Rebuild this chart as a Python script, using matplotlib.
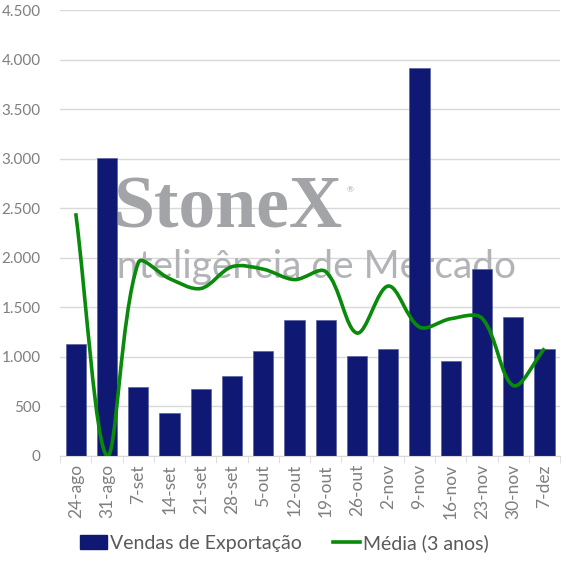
import numpy as np
import matplotlib
matplotlib.use("Agg")
import matplotlib.pyplot as plt
from matplotlib.path import Path
from matplotlib.patches import PathPatch
from matplotlib.lines import Line2D
from matplotlib.ticker import FuncFormatter

weeks = ["24-ago", "31-ago", "7-set", "14-set", "21-set", "28-set", "5-out",
         "12-out", "19-out", "26-out", "2-nov", "9-nov", "16-nov", "23-nov",
         "30-nov", "7-dez"]
export_sales = [1125, 3005, 700, 430, 675, 805, 1055, 1370, 1375, 1005,
                1080, 3915, 955, 1890, 1400, 1080]
avg_3y = [2450, 0, 1950, 1790, 1690, 1910, 1885, 1780, 1860, 1240,
          1715, 1300, 1385, 1390, 710, 1085]
y_ticks = [0, 500, 1000, 1500, 2000, 2500, 3000, 3500, 4000, 4500]

BAR_COLOR = "#0f1873"
LINE_COLOR = "#0a8a0a"
TICK_COLOR = "#7f7f7f"
GRID_COLOR = "#d9d9d9"
MARK_COLOR = "#a3a4a8"

plt.rcParams['font.family'] = ['Lato', 'DejaVu Sans']

fig = plt.figure(figsize=(5.67, 5.67), dpi=100)
ax = fig.add_axes([0.106, 0.196, 0.882, 0.786])

x = np.arange(len(weeks))

ax.set_xlim(-0.5, len(weeks) - 0.5)
ax.set_ylim(0, 4500)

# watermark behind the bars
ax.text(113 / 567, 1 - 228 / 567, "StoneX", transform=fig.transFigure,
        family="Liberation Serif", fontweight="bold", fontsize=53,
        color=MARK_COLOR, va="baseline", ha="left", zorder=1.5)
ax.text(347 / 567, 1 - 192 / 567, "®", transform=fig.transFigure,
        fontsize=6, color=MARK_COLOR, va="baseline", ha="left", zorder=1.5)
ax.text(106 / 567, 1 - 278 / 567, "Inteligência de Mercado",
        transform=fig.transFigure, fontsize=28, fontweight="normal",
        color="#b2b3b6", va="baseline", ha="left", zorder=1.5)

ax.bar(x, export_sales, width=0.65, color=BAR_COLOR, edgecolor="#5a62a0",
       linewidth=0.5, zorder=2)

# smoothed line: bezier handles weighted by segment length on screen
pts = ax.transData.transform(np.column_stack([x, avg_3y]).astype(float))
n = len(pts)
verts = [pts[0]]
codes = [Path.MOVETO]
c_in, c_out = [], []
for i in range(n):
    prev = pts[i - 1] if i > 0 else pts[i]
    nxt = pts[i + 1] if i < n - 1 else pts[i]
    d1 = np.hypot(*(pts[i] - prev))
    d2 = np.hypot(*(nxt - pts[i]))
    tot = d1 + d2 if d1 + d2 > 0 else 1.0
    tang = (nxt - prev) / 3.0
    c_in.append(pts[i] - tang * d1 / tot)
    c_out.append(pts[i] + tang * d2 / tot)
for i in range(n - 1):
    verts += [c_out[i], c_in[i + 1], pts[i + 1]]
    codes += [Path.CURVE4] * 3
verts = ax.transData.inverted().transform(np.array(verts))
ax.add_patch(PathPatch(Path(verts, codes), facecolor="none",
                       edgecolor=LINE_COLOR, linewidth=2.6,
                       capstyle="butt", zorder=3))

ax.set_yticks(y_ticks)
ax.yaxis.set_major_formatter(FuncFormatter(lambda v, p: f"{int(v):,}".replace(",", ".")))
ax.set_xticks(x)
ax.set_xticklabels(weeks, rotation=90)
ax.set_xticks(np.arange(len(weeks) + 1) - 0.5, minor=True)
ax.tick_params(axis="x", which="major", length=0, pad=6,
               labelsize=12.5, labelcolor=TICK_COLOR)
ax.tick_params(axis="x", which="minor", length=5, color=GRID_COLOR)
ax.tick_params(axis="y", length=0, pad=14, labelsize=11,
               labelcolor=TICK_COLOR)

ax.grid(axis="y", color=GRID_COLOR, linewidth=1)
ax.set_axisbelow(True)
for side in ["top", "right", "left"]:
    ax.spines[side].set_visible(False)
ax.spines["bottom"].set_color(GRID_COLOR)

handles = [plt.Rectangle((0, 0), 1, 1, color=BAR_COLOR),
           Line2D([], [], color=LINE_COLOR, linewidth=2.6)]
fig.legend(handles, ["Vendas de Exportação", "Média (3 anos)"],
           loc="center", bbox_to_anchor=(0.502, 1 - 543 / 567), ncol=2,
           frameon=False, fontsize=14, labelcolor="#595959",
           handlelength=1.4, handletextpad=0.15, columnspacing=1.6)

fig.savefig("out.png", dpi=100)
